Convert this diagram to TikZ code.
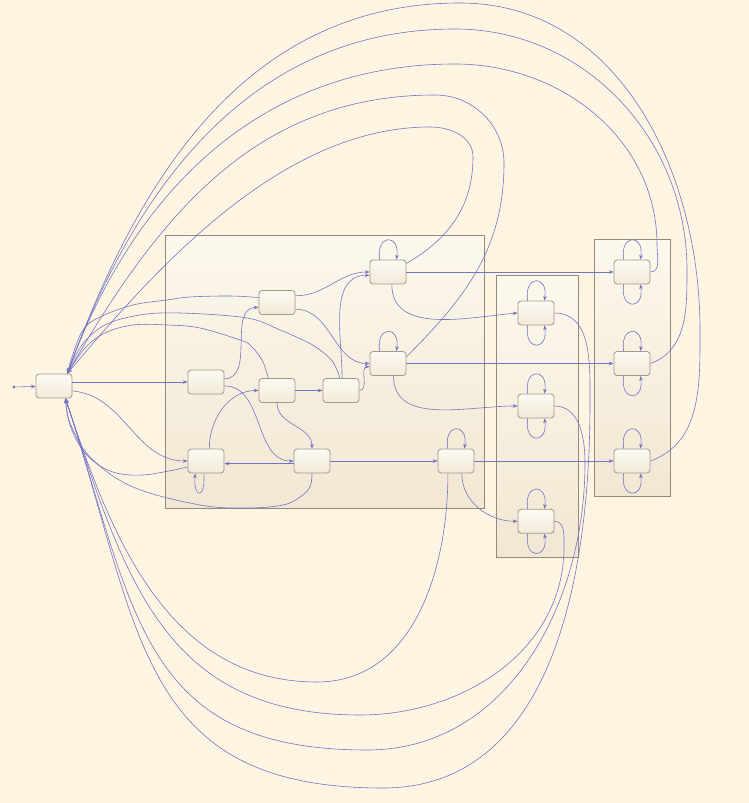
\documentclass[tikz,border=0pt]{standalone}
\usepackage{tikz}
\usetikzlibrary{arrows.meta}
\definecolor{bgcol}{HTML}{FDF4E2}
\definecolor{grptop}{HTML}{FCF8EC}
\definecolor{grpbot}{HTML}{F2E7D3}
\definecolor{grpline}{HTML}{938A7C}
\definecolor{nodetop}{HTML}{FDFAF3}
\definecolor{nodebot}{HTML}{F2EAD9}
\definecolor{nodeline}{HTML}{A39989}
\definecolor{edgecol}{HTML}{7474C4}

\begin{document}
\begin{tikzpicture}[x=0.025cm,y=0.025cm,>={Stealth[length=3.4pt,width=2.6pt]},
  stbox/.style={draw=nodeline,line width=0.6pt,rounded corners=2.2pt,top color=nodetop,bottom color=nodebot,minimum width=0.9cm,minimum height=0.6cm,inner sep=0pt},
  grp/.style={draw=grpline,line width=0.6pt,top color=grptop,bottom color=grpbot},
  tr/.style={draw=edgecol,line width=0.42pt,->},
  dot/.style={circle,fill=edgecol,inner sep=0pt,minimum size=2.4pt}]
  \fill[bgcol] (0,0) rectangle (749,803);
  \useasboundingbox (0,0) rectangle (749,803);
  % clusters
  \draw[grp] (165,294.5) rectangle (484.5,568);
  \draw[grp] (496.5,245.7) rectangle (578.3,527.7);
  \draw[grp] (594.7,306.7) rectangle (670.3,563.7);
  % states
  \node[dot] (start) at (14,416) {};
  \node[stbox] (S) at (54,417) {};
  \node[stbox] (A) at (206,421) {};
  \node[stbox] (B) at (277,500.5) {};
  \node[stbox] (C) at (277,412.5) {};
  \node[stbox] (D) at (341,412.5) {};
  \node[stbox] (E) at (388,531) {};
  \node[stbox] (F) at (388,439.5) {};
  \node[stbox] (G) at (206,342) {};
  \node[stbox] (H) at (312,342) {};
  \node[stbox] (I) at (456,342) {};
  \node[stbox] (J1) at (536,490) {};
  \node[stbox] (J2) at (536,397) {};
  \node[stbox] (J3) at (536,281.7) {};
  \node[stbox] (K1) at (632,531) {};
  \node[stbox] (K2) at (632,439.5) {};
  \node[stbox] (K3) at (632,342) {};
  % forward transitions
  \draw[tr] (start) -- (S);
  \draw[tr] (S.east |- A.west) -- (A.west);
  \draw[tr] (S.-15) to[out=-5,in=180] (G.west);
  \draw[tr] (A.10) to[out=0,in=180] (B.195);
  \draw[tr] (A.-12) to[out=0,in=180] (H.west);
  \draw[tr] (G.75) to[out=90,in=180] (C.west);
  \draw[tr] (B.20) to[out=0,in=180] (E.west);
  \draw[tr] (B.-20) to[out=0,in=180] (F.west);
  \draw[tr] (C.east) -- (D.west);
  \draw[tr] (C.south) to[out=-90,in=90] (H.north);
  \draw[tr] (D.85) to[out=90,in=180] (E.190);
  \draw[tr] (D.east) to[out=0,in=180] (F.190);
  \draw[tr] (H.188) -- (G.-8);
  \draw[tr] (H.east) -- (I.west);
  \draw[tr] (E.east) -- (K1.west);
  \draw[tr] (F.east) -- (K2.west);
  \draw[tr] (I.east) -- (K3.west);
  \draw[tr] (E.-73) to[out=-90,in=185] (J1.west);
  \draw[tr] (F.-66) to[out=-90,in=180] (J2.west);
  \draw[tr] (I.-65) to[out=-90,in=180] (J3.west);
  % self loops
  \draw[tr] (E.124) .. controls +(-4,26) and +(4,26) .. (E.56);
  \draw[tr] (F.124) .. controls +(-4,26) and +(4,26) .. (F.56);
  \draw[tr] (I.124) .. controls +(-4,26) and +(4,26) .. (I.56);
  \draw[tr] (G.-100) .. controls +(2,-26) and +(-2,-26) .. (G.-131);
  \draw[tr] (J1.124) .. controls +(-4,26) and +(4,26) .. (J1.56);
  \draw[tr] (J2.124) .. controls +(-4,26) and +(4,26) .. (J2.56);
  \draw[tr] (J3.124) .. controls +(-4,26) and +(4,26) .. (J3.56);
  \draw[tr] (K1.124) .. controls +(-4,26) and +(4,26) .. (K1.56);
  \draw[tr] (K2.124) .. controls +(-4,26) and +(4,26) .. (K2.56);
  \draw[tr] (K3.124) .. controls +(-4,26) and +(4,26) .. (K3.56);
  \draw[tr] (J1.-124) .. controls +(-4,-26) and +(4,-26) .. (J1.-56);
  \draw[tr] (J2.-124) .. controls +(-4,-26) and +(4,-26) .. (J2.-56);
  \draw[tr] (J3.-124) .. controls +(-4,-26) and +(4,-26) .. (J3.-56);
  \draw[tr] (K1.-124) .. controls +(-4,-26) and +(4,-26) .. (K1.-56);
  \draw[tr] (K2.-124) .. controls +(-4,-26) and +(4,-26) .. (K2.-56);
  \draw[tr] (K3.-124) .. controls +(-4,-26) and +(4,-26) .. (K3.-56);
  % back to the initial state, over the top
  \draw[tr] plot[smooth,tension=0.6] coordinates {(B.165) (230,507) (190,506) (167,503) (133,498) (100,486) (83,473) (72,446) (S.43)};
  \draw[tr] plot[smooth,tension=0.6] coordinates {(C.125) (262,443) (250,458) (240,463) (200,475) (167,478) (133,478) (105,470) (85,455) (S.43)};
  \draw[tr] plot[smooth,tension=0.6] coordinates {(D.95) (333,441) (320,453) (307,461) (280,473) (247,485) (180,490) (140,488) (105,478) (82,458) (S.43)};
  \draw[tr] (E.25) to[out=30,in=-90] (473,646) to[out=90,in=0] (430,676) to[out=180,in=50,looseness=0.85] (S.43);
  \draw[tr] (F.20) to[out=45,in=-90] (504,640) to[out=90,in=0] (435,708) to[out=180,in=60] (S.43);
  \draw[tr] (K1.east) to[out=0,in=-90] (657,558) to[out=90,in=0] (455,739) to[out=180,in=70] (S.43);
  \draw[tr] (K2.east) to[out=20,in=-90] (687,533) to[out=90,in=0] (455,774) to[out=180,in=70] (S.43);
  \draw[tr] (K3.east) to[out=20,in=-90] (700,473) to[out=90,in=0] (460,800) to[out=180,in=70] (S.43);
  % back to the initial state, from below
  \draw[tr] plot[smooth,tension=0.6] coordinates {(G.198) (143,328) (110,332) (85,350) (70,378) (S.-47)};
  \draw[tr] plot[smooth,tension=0.6] coordinates {(H.south) (310,316) (300,306) (283,298) (247,295) (200,298) (133,316) (90,346) (70,380) (S.-47)};
  \draw[tr] (I.-123) to[out=-90,in=0] (317,121) to[out=180,in=-72] (S.-47);
  \draw[tr] (J3.east) to[out=0,in=90] (564,256) to[out=-90,in=0] (360,88) to[out=180,in=-72,looseness=1.15] (S.-47);
  \draw[tr] (J2.east) to[out=0,in=90] (585,340) to[out=-90,in=0] (367,53) to[out=180,in=-72,looseness=1.25] (S.-47);
  \draw[tr] (J1.east) to[out=0,in=90] (590,400) to[out=-90,in=0] (383,15) to[out=180,in=-72,looseness=1.25] (S.-47);
\end{tikzpicture}
\end{document}
